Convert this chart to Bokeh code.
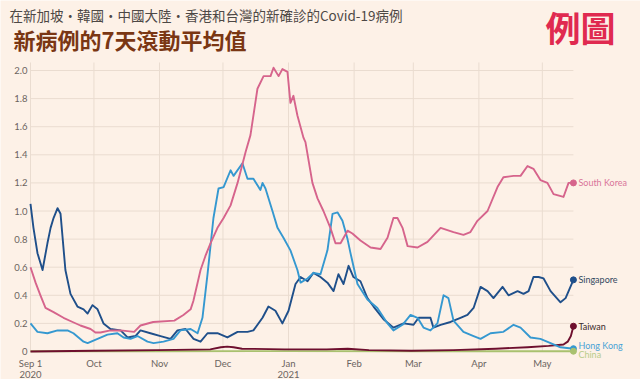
import datetime
from bokeh.plotting import figure
from bokeh.models import FixedTicker, Range1d, Label, ColumnDataSource
from bokeh.embed import file_html
from bokeh.resources import INLINE
from bokeh.core.properties import value

START = datetime.date(2020, 9, 1)

# ---- data: days since 2020-09-01, 7-day rolling average of new cases per 100k ----
sk_days = [0, 2.4, 4.7, 7.1, 10.9, 15.6, 19.9, 23.6, 28.4, 30.7, 33.1, 37.8, 42.6, 49, 52, 58, 68, 72.3,
           75.7, 77, 80.4, 82.7, 85.1, 88.4, 91.3, 94.6, 97.9, 101.7, 104, 107.3, 110.2, 113.5, 114.9,
           117.3, 119.1, 121.5, 122.9, 124.3, 126.2, 129.1, 130, 133.3, 135.7, 138.5, 141.8, 144.2,
           146.6, 149.9, 152.2, 156, 160.8, 165.5, 168.8, 171.6, 173.5, 175.9, 178.3, 183, 187.7,
           193.9, 200, 204.7, 208, 211.3, 216.1, 220.8, 223.6, 228.4, 231.7, 235, 237.8, 241.1,
           244.4, 247.3, 252, 254.4, 256.7]
sk_vals = [0.60, 0.49, 0.40, 0.31, 0.28, 0.24, 0.21, 0.185, 0.16, 0.135, 0.135, 0.15, 0.15, 0.14, 0.185,
           0.21, 0.22, 0.26, 0.30, 0.36, 0.58, 0.68, 0.77, 0.88, 0.95, 1.04, 1.2, 1.42, 1.54, 1.87, 1.96,
           1.96, 2.02, 1.96, 2.01, 1.99, 1.77, 1.82, 1.68, 1.52, 1.49, 1.2, 1.09, 1.0, 0.88, 0.77, 0.77,
           0.86, 0.84, 0.79, 0.74, 0.73, 0.81, 0.95, 0.95, 0.88, 0.75, 0.74, 0.78, 0.88, 0.85, 0.83,
           0.85, 0.93, 1.0, 1.17, 1.24, 1.25, 1.25, 1.32, 1.30, 1.22, 1.2, 1.12, 1.1, 1.2, 1.2]

sg_days = [0, 1.4, 3.3, 5.7, 8, 9.5, 10.9, 12.8, 14.2, 16.5, 18.9, 22.2, 25.1, 27, 29.3, 31.7, 34.5,
           37.8, 42.6, 45.9, 49.6, 52, 56.7, 61.5, 66.2, 69.5, 73.3, 77.1, 80.4, 83.7, 88.4, 93.1,
           97.9, 102.6, 105.4, 109.7, 112.5, 115.8, 119.1, 122, 125.3, 127.7, 131, 133.8, 137.1,
           140.4, 143.3, 145.6, 148, 150.4, 152.7, 156, 159.3, 162.2, 166.9, 171.6, 176.4, 181.1,
           183.5, 185.8, 189.1, 190.5, 193.9, 198.6, 203.3, 206.6, 209.5, 212.8, 216.1, 218.9,
           223.2, 226, 230.3, 233.1, 235.5, 237.8, 240.2, 242.6, 245.9, 250.6, 253, 256.7]
sg_vals = [1.05, 0.88, 0.70, 0.58, 0.77, 0.88, 0.95, 1.02, 0.98, 0.58, 0.41, 0.32, 0.30, 0.27, 0.33,
           0.30, 0.20, 0.16, 0.15, 0.10, 0.11, 0.15, 0.13, 0.11, 0.09, 0.15, 0.16, 0.09, 0.07, 0.13,
           0.13, 0.10, 0.14, 0.14, 0.15, 0.24, 0.32, 0.29, 0.20, 0.29, 0.48, 0.53, 0.50, 0.56, 0.53,
           0.49, 0.43, 0.55, 0.48, 0.61, 0.53, 0.50, 0.38, 0.32, 0.23, 0.17, 0.20, 0.19, 0.24, 0.24,
           0.24, 0.17, 0.19, 0.21, 0.24, 0.26, 0.31, 0.46, 0.43, 0.38, 0.46, 0.40, 0.43, 0.41, 0.43,
           0.53, 0.53, 0.52, 0.43, 0.35, 0.38, 0.51]

hk_days = [0, 3.3, 8, 12.8, 17.5, 20.3, 25.1, 27, 31.7, 36.4, 41.1, 44, 47.3, 50.6, 55.3, 58.2, 62.9,
           67.6, 70.9, 75.7, 79, 81.3, 83.7, 86.5, 88.9, 91.3, 94.6, 96, 100.2, 102.6, 105.4, 108.7,
           109.7, 111.1, 114.4, 116.8, 119.6, 122.9, 126.2, 127.7, 131, 133.8, 137.1, 140.4, 142.8,
           145.2, 147.5, 149.9, 151.3, 154.6, 159.3, 164, 168.8, 171.6, 175.9, 179.7, 183, 185.8,
           189.1, 192.4, 195.3, 197.6, 200, 204.7, 209.5, 212.8, 217.5, 223.6, 228.4, 231.7, 236.4,
           241.1, 245.9, 250.6, 256.7]
hk_vals = [0.20, 0.14, 0.13, 0.15, 0.15, 0.13, 0.07, 0.06, 0.09, 0.12, 0.13, 0.10, 0.09, 0.11, 0.07,
           0.06, 0.07, 0.09, 0.15, 0.16, 0.13, 0.24, 0.55, 0.95, 1.16, 1.17, 1.29, 1.25, 1.34, 1.23,
           1.23, 1.15, 1.2, 1.16, 1.0, 0.88, 0.81, 0.72, 0.58, 0.49, 0.52, 0.56, 0.55, 0.72, 0.98,
           0.99, 0.93, 0.80, 0.70, 0.48, 0.37, 0.31, 0.20, 0.15, 0.19, 0.26, 0.24, 0.17, 0.15, 0.20,
           0.40, 0.38, 0.22, 0.14, 0.11, 0.09, 0.13, 0.14, 0.19, 0.17, 0.10, 0.09, 0.06, 0.03, 0.02]

tw_days = [0, 30, 60, 85, 90, 93, 96, 100, 120, 140, 150, 160, 180, 200, 220, 235, 245, 252, 254,
           255.5, 256.7]
tw_vals = [0.0, 0.005, 0.01, 0.015, 0.03, 0.035, 0.03, 0.02, 0.015, 0.015, 0.02, 0.01, 0.005, 0.01,
           0.02, 0.03, 0.04, 0.05, 0.07, 0.11, 0.18]

cn_days = [0, 60, 120, 180, 240, 256.7]
cn_vals = [0.002, 0.002, 0.003, 0.002, 0.002, 0.002]

names = ["South Korea", "Singapore", "Taiwan", "Hong Kong", "China"]

month_dates = ["2020-09-01", "2020-10-01", "2020-11-01", "2020-12-01", "2021-01-01",
               "2021-02-01", "2021-03-01", "2021-04-01", "2021-05-01"]
month_labels = ["Sep 1\n2020", "Oct", "Nov", "Dec", "Jan\n2021", "Feb", "Mar", "Apr", "May"]
y_ticks = [0, 0.2, 0.4, 0.6, 0.8, 1.0, 1.2, 1.4, 1.6, 1.8, 2.0]

subtitle = "在新加坡・韓國・中國大陸・香港和台灣的新確診的Covid-19病例"
title = "新病例的7天滾動平均值"
stamp = "例圖"

# ---- styles ----
BG = "#fdf1e7"
GRID = "#eadcd0"
TICK_COL = "#6b6460"
colors = {"South Korea": "#d6648c", "Singapore": "#1f4f8a", "Taiwan": "#6e0f2e",
          "Hong Kong": "#3598d0", "China": "#a9c16f"}
label_colors = {"South Korea": "#d9759a", "Singapore": "#34495f", "Taiwan": "#3a2a2a",
                "Hong Kong": "#4aa3d6", "China": "#b8cc8a"}

def to_day(s):
    return (datetime.date.fromisoformat(s) - START).days

month_ticks = [to_day(s) for s in month_dates]

# the frame covers the whole canvas; scales fixed in pixels per unit
W, H = 640, 379
PX_PER_DAY = 2.115
PX_PER_UNIT = 140.5
X_ORIGIN_PX = 30     # canvas x of the first day
ZERO_PX = 351        # canvas y of value 0
x0 = -X_ORIGIN_PX / PX_PER_DAY
x1 = x0 + W / PX_PER_DAY
y0 = -(H - ZERO_PX) / PX_PER_UNIT
y1 = ZERO_PX / PX_PER_UNIT

def cx(px):
    return x0 + px / PX_PER_DAY

def cy(py):
    return (ZERO_PX - py) / PX_PER_UNIT

p = figure(width=W, height=H, output_backend="svg", toolbar_location=None,
           x_range=Range1d(x0, x1), y_range=Range1d(y0, y1),
           min_border_left=0, min_border_right=0, min_border_top=0, min_border_bottom=0,
           background_fill_color=BG, border_fill_color=BG, outline_line_color=None)
p.xgrid.visible = False
p.ygrid.visible = False

last_day = max(sk_days)
top_grid = max(y_ticks) + 0.057
# grid lines
p.segment(x0=[0] * len(y_ticks), x1=[last_day] * len(y_ticks), y0=y_ticks, y1=y_ticks,
          line_color=GRID, line_width=1)
p.segment(x0=month_ticks, x1=month_ticks, y0=[0] * len(month_ticks),
          y1=[top_grid] * len(month_ticks), line_color=GRID, line_width=1)

# axes drawn inside the frame at fixed locations
for ax in (p.xaxis, p.yaxis):
    ax.fixed_location = 0
    ax.axis_line_color = None
    ax.major_tick_line_color = None
    ax.minor_tick_line_color = None
    ax.major_tick_out = 0
    ax.major_tick_in = 0
    ax.minor_tick_out = 0
    ax.major_label_text_font = "Lato"
    ax.major_label_text_font_size = "9.5px"
    ax.major_label_text_color = TICK_COL

p.yaxis.ticker = FixedTicker(ticks=y_ticks)
p.yaxis.major_label_overrides = {t: ("0" if t == 0 else f"{t:.1f}") for t in y_ticks}
p.yaxis.major_label_standoff = 3

p.xaxis.ticker = FixedTicker(ticks=month_ticks)
p.xaxis.major_label_overrides = dict(zip(month_ticks, month_labels))
p.xaxis.major_label_standoff = 6
p.xaxis.major_label_text_line_height = 1.05

series = {
    "China": (cn_days, cn_vals),
    "Taiwan": (tw_days, tw_vals),
    "Singapore": (sg_days, sg_vals),
    "Hong Kong": (hk_days, hk_vals),
    "South Korea": (sk_days, sk_vals),
}
for name, (d, v) in series.items():
    p.line(d, v, line_color=colors[name], line_width=1.9, line_join="round")

end_x = [series[n][0][-1] for n in names]
end_y = [series[n][1][-1] for n in names]
p.scatter(end_x, end_y, size=6, color=[colors[n] for n in names])

label_offsets = {"South Korea": 0, "Singapore": 0, "Taiwan": 0, "Hong Kong": -3, "China": 3}
src = ColumnDataSource(dict(x=end_x, y=end_y, text=names,
                            c=[label_colors[n] for n in names],
                            yo=[label_offsets[n] for n in names]))
p.text(x="x", y="y", text="text", source=src, x_offset=5, y_offset="yo",
       text_color="c", text_font=value("Lato"), text_font_size="9px", text_baseline="middle")

# titles
p.add_layout(Label(x=cx(9), y=cy(14), text=subtitle,
                   text_font="Noto Sans CJK TC", text_font_size="13.5px", text_color="#4d4845",
                   text_baseline="middle"))
p.add_layout(Label(x=cx(13), y=cy(38), text=title,
                   text_font="Noto Sans CJK TC", text_font_size="22px", text_font_style="bold",
                   text_color="#7a3613", text_baseline="middle"))
p.add_layout(Label(x=cx(545), y=cy(26), text=stamp,
                   text_font="Noto Sans CJK TC", text_font_size="35px", text_font_style="bold",
                   text_color="#e02a50", text_baseline="middle"))

open("out.html", "w").write(file_html(p, INLINE))
